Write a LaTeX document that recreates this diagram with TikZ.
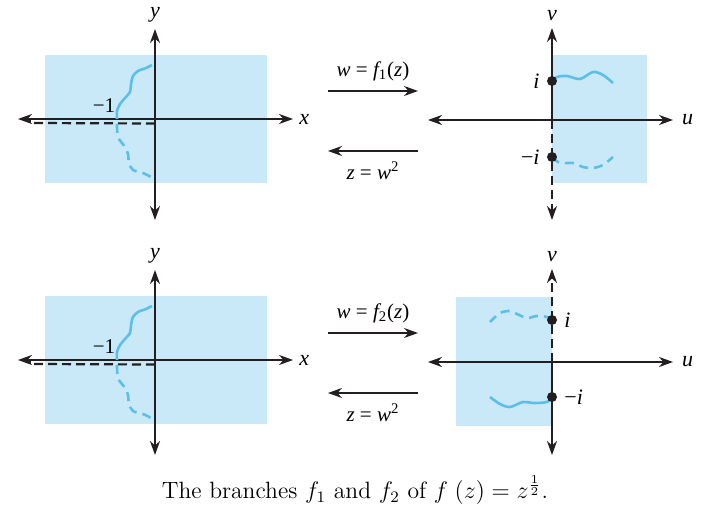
\documentclass[tikz,border=0pt]{standalone}
\usepackage{fontspec}
\newfontfamily\tms{Liberation Serif}
\usetikzlibrary{arrows.meta,calc}

\definecolor{planefill}{HTML}{C9E9F8}
\definecolor{curveblue}{HTML}{5BBFEA}
\definecolor{axisgray}{HTML}{231F20}

\tikzset{
  axis/.style={draw=axisgray,line width=1.1pt},
  tip/.style={-{Stealth[length=7pt,width=5pt]}},
  slit/.style={draw=axisgray,line width=1.1pt,dash pattern=on 4.5pt off 2.5pt},
  wave/.style={draw=curveblue,line width=1.3pt},
  dashwave/.style={wave,dash pattern=on 4.5pt off 3pt},
  lbl/.style={font=\tms\itshape\fontsize{11}{13}\selectfont,inner sep=1pt},
  maplbl/.style={font=\tms\fontsize{10.5}{12}\selectfont,inner sep=1pt},
  pt/.style={fill=axisgray}
}

\begin{document}
\begin{tikzpicture}[x=0.5pt,y=-0.5pt]
\useasboundingbox (0,0) rectangle (720,519);

% z-plane, both rows
\foreach \k/\dy in {1/0,2/241}{
\begin{scope}[shift={(0,\dy)}]
\fill[planefill] (45,55) rectangle (267,183);
\coordinate (zo\k) at (155,119);
\coordinate (zl\k) at (18,119);
\coordinate (zr\k) at (293,119);
\coordinate (zs\k) at (30,123);
\draw[axis,tip] (zo\k)--(zl\k);
\draw[axis,tip] (zo\k)--(zr\k);
\draw[slit] (155,123.5)--(zs\k);
\draw[axis] (zs\k)--(30,119);
\node[lbl,right=2pt] (x\k) at (zr\k) {x};
\node[maplbl] (m\k) at (104,106) {−1};
\draw[wave] plot[smooth] coordinates {(152,65) (146,68) (138,71) (133,76) (131,84) (130,92) (125,98) (120,104) (117,111) (117,119)};
\draw[dashwave] plot[smooth] coordinates {(117,124) (118,137) (125,147) (128,154) (129,163) (133,170) (143,173) (151,177)};
\end{scope}
}
\draw[axis,tip] (zo1)--(155,29) node[lbl,above=2pt] (y1) {y};
\draw[axis,tip] (zo1)--(155,220);
\draw[axis,tip] (zo2)--(155,270) node[lbl,above=2pt] (y2) {y};
\draw[axis,tip] (zo2)--(155,455);

% w-plane, top row (f1)
\fill[planefill] (552,55) rectangle (647,183);
\coordinate (wo1) at (552,120);
\draw[axis,tip] (wo1)--(428,120);
\draw[axis,tip] (wo1)--(673,120) node[lbl,right=3pt] (u1) {u};
\draw[axis,tip] (wo1)--(552,28) node[lbl,above=2pt] (v1) {v};
\draw[slit,tip] (wo1)--(552,220);
\draw[wave] plot[smooth] coordinates {(552,81) (557,77) (567,76) (580,79) (593,72) (603,75) (613,83)};
\draw[dashwave] plot[smooth] coordinates {(552,157) (560,163) (573,163) (583,167) (593,168) (603,165) (613,157)};
\fill[pt] (552,81) circle (5) coordinate (i1);
\fill[pt] (552,157) circle (5) coordinate (mi1);
\node[lbl,left=5pt] (il1) at (i1) {i};
\node[lbl,left=5pt] (mil1) at (mi1) {\upshape −\itshape i};

% w-plane, bottom row (f2)
\fill[planefill] (456,297) rectangle (552,426);
\coordinate (wo2) at (552,362);
\draw[axis,tip] (wo2)--(428,362);
\draw[axis,tip] (wo2)--(673,362) node[lbl,right=3pt] (u2) {u};
\draw[slit,tip] (wo2)--(552,269) node[lbl,above=2pt] (v2) {v};
\draw[axis,tip] (wo2)--(552,455);
\draw[dashwave] plot[smooth] coordinates {(552,320) (547,317) (537,316) (527,318) (517,314) (510,311) (500,313) (490,322)};
\draw[wave] plot[smooth] coordinates {(552,397) (547,402) (533,403) (523,402) (510,407) (500,404) (490,397)};
\fill[pt] (552,320) circle (5) coordinate (i2);
\fill[pt] (552,397) circle (5) coordinate (mi2);
\node[lbl,right=5pt] (il2) at (i2) {i};
\node[lbl,right=5pt] (mil2) at (mi2) {\upshape −\itshape i};

% maps between the planes
\foreach \k/\dy in {1/0,2/242}{
\coordinate (fa\k) at (328,91+\dy);
\coordinate (fb\k) at (418,91+\dy);
\coordinate (ga\k) at (418,151+\dy);
\coordinate (gb\k) at (328,151+\dy);
\draw[axis,line width=0.7pt,tip] (fa\k)--(fb\k);
\draw[axis,line width=0.7pt,tip] (ga\k)--(gb\k);
\node[maplbl,above=4pt] (f\k) at ($(fa\k)!0.5!(fb\k)$) {\itshape w \upshape= \itshape f\textsubscript{\upshape\k}\upshape(\itshape z\upshape)};
\node[maplbl,below=4pt] (g\k) at ($(ga\k)!0.5!(gb\k)$) {\itshape z \upshape= \itshape w\textsuperscript{\upshape 2}};
}

\node[font=\fontsize{11.8}{14}\selectfont] (cap) at (355,490) {The branches $f_1$ and $f_2$ of $f\;(z)=z^{\frac{1}{2}}$.};
\end{tikzpicture}
\end{document}
